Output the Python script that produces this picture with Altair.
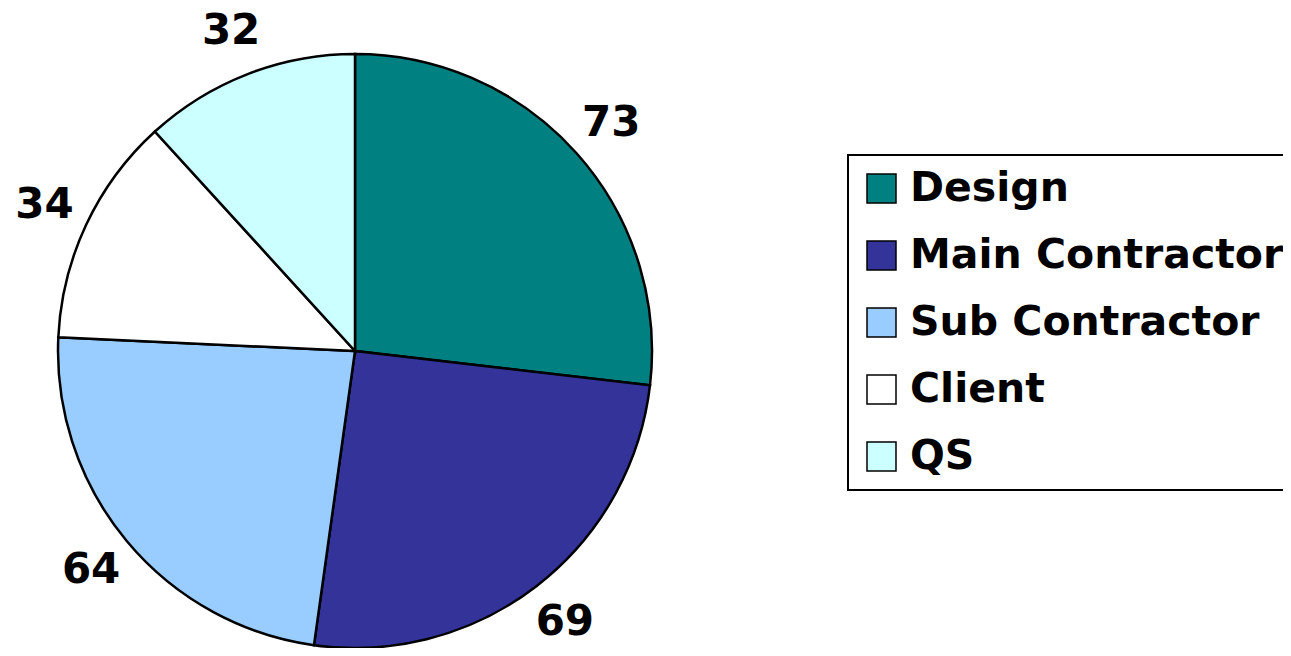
import altair as alt
import pandas as pd

categories = ["Design", "Main Contractor", "Sub Contractor", "Client", "QS"]
values = [73, 69, 64, 34, 32]
colors = ["#008080", "#333399", "#99CCFF", "#FFFFFF", "#CCFFFF"]

df = pd.DataFrame({"cat": categories, "val": values, "idx": list(range(len(categories)))})

FONT = "DejaVu Sans"
CX, CY = 347, 343

base = alt.Chart(df).encode(
    theta=alt.Theta("val:Q", stack=True),
    order=alt.Order("idx:Q"),
    x=alt.value(CX),
    y=alt.value(CY),
)

pie = base.mark_arc(outerRadius=297, stroke="black", strokeWidth=2.5).encode(
    color=alt.Color(
        "cat:N",
        scale=alt.Scale(domain=categories, range=colors),
        sort=categories,
        legend=alt.Legend(title=None),
    )
)

labels = base.mark_text(radius=343, font=FONT, fontSize=42, fontWeight="bold", color="black").encode(
    text=alt.Text("val:Q")
)

chart = (
    alt.layer(pie, labels)
    .properties(width=1275, height=640, autosize=alt.AutoSizeParams(type="none"), padding=0)
    .configure_view(stroke=None)
    .configure_legend(
        orient="none",
        legendX=840,
        legendY=147,
        strokeColor="black",
        strokeWidth=2,
        padding=13,
        symbolType="square",
        symbolSize=841,
        symbolStrokeColor="black",
        symbolStrokeWidth=1.5,
        labelFont=FONT,
        labelFontSize=41,
        labelFontWeight="bold",
        labelColor="black",
        labelLimit=600,
        labelOffset=8,
        rowPadding=25,
    )
)

chart.save("out.html", embed_options={"renderer": "svg", "actions": False})
